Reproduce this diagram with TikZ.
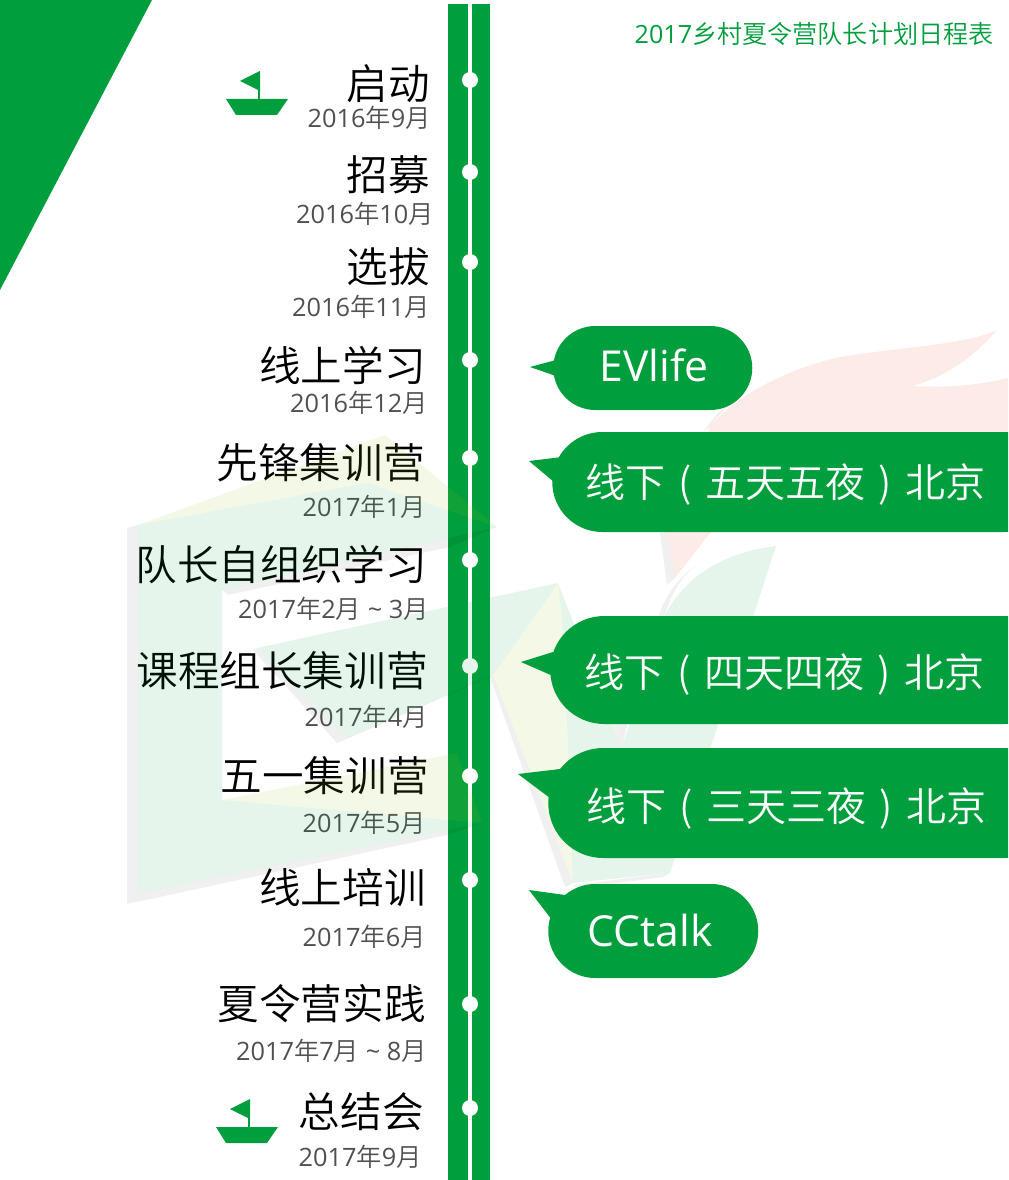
\documentclass[tikz,border=0pt]{standalone}
\usepackage{fontspec}
\setmainfont{Open Sans}
\newfontfamily\cjk{Noto Sans CJK SC DemiLight}
\usetikzlibrary{shapes.misc}
\definecolor{evgreen}{RGB}{0,158,60}
\definecolor{evyellow}{RGB}{150,200,30}
\definecolor{evred}{RGB}{226,70,40}
\definecolor{datetext}{RGB}{80,80,80}
\def\pw{0.75pt}
\newcommand{\nian}[2]{#1{\cjk 年}#2{\cjk 月}}
\newcommand{\lk}{\makebox[1em]{(}}
\newcommand{\rk}{\makebox[1em]{)}}
\tikzset{
  stage/.style={anchor=east,inner sep=0pt,text height=25pt,text depth=2.5pt,font=\cjk\fontsize{31.2pt}{36pt}\selectfont},
  when/.style={anchor=east,inner sep=0pt,yshift=-1pt,text=datetext,text height=14.5pt,text depth=1.5pt,font=\fontsize{19pt}{22pt}\selectfont},
  bubble/.style={shape=rounded rectangle,anchor=west,fill=evgreen,inner sep=0pt},
  bubbletext/.style={inner sep=0pt,text=white,text height=24pt,text depth=2.4pt,font=\fontsize{32pt}{36pt}\selectfont},
  bubblecjk/.style={bubbletext,font=\cjk\fontsize{30pt}{36pt}\selectfont},
  wmgreen/.style={fill=evgreen,opacity=0.1},
  wmyellow/.style={fill=evyellow,opacity=0.11},
  wmgray/.style={fill=black,opacity=0.06},
  wmred/.style={fill=evred,opacity=0.11},
  boat/.pic={
    \fill[evgreen] (226,99)--(288,99)--(277,115)--(236,115)--cycle;
    \fill[evgreen] (258,85) rectangle (260,99);
    \fill[evgreen] (240,81)--(260,71)--(260,91)--cycle;
  }
}
\begin{document}
\begin{tikzpicture}[x=0.75pt,y=-0.75pt]
  \useasboundingbox (0,0) rectangle (1008,1180);
  \clip (0,0) rectangle (1008,1180);
  % corner and headline
  \fill[evgreen] (0,0)--(152,0)--(0,290)--cycle;
  \node[anchor=east,inner sep=0pt,text=evgreen,text height=14pt,text depth=1.5pt,font=\fontsize{18.85pt}{22pt}\selectfont] (headline) at (994,35) {2017{\cjk 乡村夏令营队长计划日程表}};
  % time line
  \fill[evgreen] (448,4) rectangle (468,1180);
  \fill[evgreen] (472,4) rectangle (490,1180);
  \foreach \y in {80,172,262,360,458,560,666,776,880,1004,1108}
    \fill[white] (470,\y) circle[radius=8];
  \pic at (0,0) {boat};
  \pic at (-10,1028) {boat};
  % stages
  \node[stage] (start) at (430,85) {启动};
  \node[when] (startdate) at (431,118) {\nian{2016}{9}};
  \node[stage] (recruit) at (430,176) {招募};
  \node[when] (recruitdate) at (434,214) {\nian{2016}{10}};
  \node[stage] (select) at (430,267) {选拔};
  \node[when] (selectdate) at (430,306) {\nian{2016}{11}};
  \node[stage] (online) at (426,366) {线上学习};
  \node[when] (onlinedate) at (428,402) {\nian{2016}{12}};
  \node[stage] (pioneer) at (425,463) {先锋集训营};
  \node[when] (pioneerdate) at (426,506) {\nian{2017}{1}};
  \node[stage] (selfstudy) at (427,565) {队长自组织学习};
  \node[when] (selfstudydate) at (429,608) {\nian{2017}{2} \textasciitilde\ 3{\cjk 月}};
  \node[stage] (course) at (428,671) {课程组长集训营};
  \node[when] (coursedate) at (428,716) {\nian{2017}{4}};
  \node[stage] (mayday) at (429,776) {五一集训营};
  \node[when] (maydaydate) at (426,822) {\nian{2017}{5}};
  \node[stage] (training) at (426,888) {线上培训};
  \node[when] (trainingdate) at (426,936) {\nian{2017}{6}};
  \node[stage] (practice) at (426,1004) {夏令营实践};
  \node[when] (practicedate) at (427,1050) {\nian{2017}{7} \textasciitilde\ 8{\cjk 月}};
  \node[stage] (summary) at (424,1112) {总结会};
  \node[when] (summarydate) at (422,1156) {\nian{2017}{9}};
  % pale logo over the list
  \fill[wmgray] (127,528)--(138,525)--(138,893)--(127,904)--cycle;
  \fill[wmgray] (127,904)--(138,893)--(482,823)--(447,835)--cycle;
  \fill[wmgray] (222,590)--(497,527)--(450,547)--(228,595)--cycle;
  \fill[wmgray] (253,650)--(257,648)--(347,738)--(337,743)--cycle;
  \fill[wmgray] (337,743)--(347,738)--(493,675)--(490,677)--cycle;
  \fill[wmgray] (490,677)--(493,675)--(573,883)--(565,887)--cycle;
  \fill[wmgray] (613,722)--(622,747)--(628,722)--cycle;
  \fill[wmgray] (578,888)--(573,885)--(670,873)--(663,877)--cycle;
  \fill[wmgray] (660,533)--(668,532)--(675,578)--(667,585)--cycle;
  \fill[wmgray] (658,618) .. controls (665,595) and (680,575) .. (700,563) .. controls (685,572) and (672,590) .. (665,615)--cycle;
  \fill[wmgray] (703,432) .. controls (715,415) and (730,400) .. (747,392) .. controls (732,402) and (720,412) .. (710,427)--cycle;
  \fill[wmgreen] (138,525)--(367,483)--(497,527)--(222,590)--(222,800)--(482,823)--(138,893)--cycle;
  \fill[wmyellow] (138,525)--(385,435)--(497,527)--(367,483)--cycle;
  \fill[wmyellow] (222,800)--(457,753)--(482,823)--cycle;
  \fill[wmgreen] (257,648)--(558,583)--(493,675)--(347,738)--cycle;
  \fill[wmyellow] (558,583)--(493,675)--(573,883)--(567,720)--(562,617)--cycle;
  \fill[wmgreen] (558,583)--(562,617)--(567,720)--(573,883)--(670,873)--(776,546) .. controls (735,551) and (690,568) .. (665,615)--(622,747)--cycle;
  \fill[wmred] (997,330) .. controls (965,345) and (900,347) .. (840,357) .. controls (790,368) and (735,395) .. (710,427)--(668,532)--(675,578)--(711,532)--(1008,440)--(1008,378) .. controls (980,385) and (945,388) .. (913,386) .. controls (950,375) and (975,355) .. (997,330)--cycle;
  % bubbles
  \fill[evgreen] (530,367)--(556,360)--(556,376)--cycle;
  \node[bubble,minimum width=199*\pw,minimum height=84*\pw] (evlife) at (553,368) {};
  \node[bubbletext] (evlifetext) at (654,367) {EVlife};
  \fill[evgreen] (529,461)--(562,457)--(554,482)--cycle;
  \node[bubble,minimum width=501*\pw,minimum height=100*\pw] (fivedays) at (552,482) {};
  \node[bubblecjk] (fivedaystext) at (785,483) {线下\lk 五天五夜\rk 北京};
  \fill[evgreen] (521,662)--(553,652)--(553,676)--cycle;
  \node[bubble,minimum width=507*\pw,minimum height=108*\pw] (fourdays) at (550,670) {};
  \node[bubblecjk] (fourdaystext) at (784,673) {线下\lk 四天四夜\rk 北京};
  \fill[evgreen] (518,774)--(560,769)--(550,798)--cycle;
  \node[bubble,minimum width=510*\pw,minimum height=110*\pw] (threedays) at (548,803) {};
  \node[bubblecjk] (threedaystext) at (786,807) {线下\lk 三天三夜\rk 北京};
  \fill[evgreen] (529,890)--(565,895)--(552,920)--cycle;
  \node[bubble,minimum width=210*\pw,minimum height=94*\pw] (cctalk) at (548,931) {};
  \node[bubbletext] (cctalktext) at (650,932) {CCtalk};
\end{tikzpicture}
\end{document}
